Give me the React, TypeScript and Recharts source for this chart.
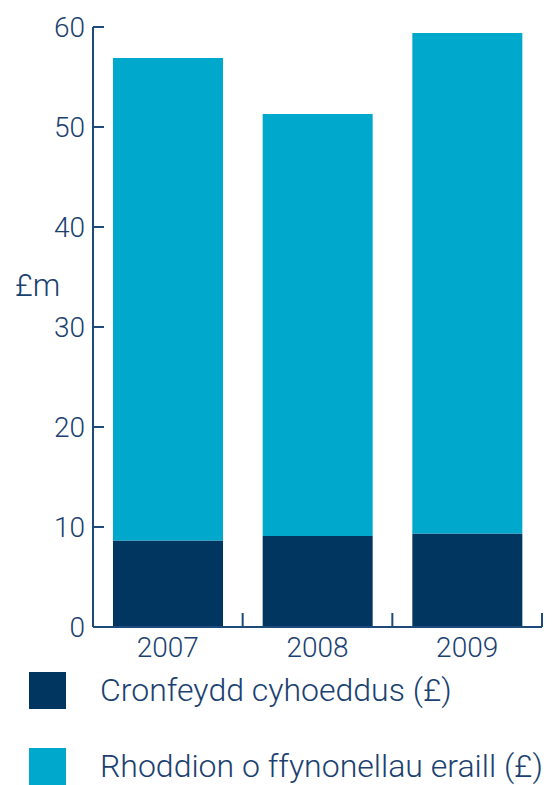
import { BarChart, Bar, XAxis, YAxis, Legend } from 'recharts';

const years = ['2007', '2008', '2009'];
const publicFunds = [8.65, 9.1, 9.35];
const otherDonations = [48.25, 42.2, 50.05];
const yTicks = [0, 10, 20, 30, 40, 50, 60];

const SERIES = [
  { key: 'public', name: 'Cronfeydd cyhoeddus (£)', color: '#00365f' },
  { key: 'other', name: 'Rhoddion o ffynonellau eraill (£)', color: '#00a8cc' },
];

const data = years.map((year, i) => ({
  year,
  public: publicFunds[i],
  other: otherDonations[i],
}));

const W = 552;
const H = 785;
const AXIS_W = 93;
const RIGHT = 10;
const BAND = (W - AXIS_W - RIGHT) / years.length;
const INK = '#1a4170';
const LINE = '#1d4a7a';
const FONT = 'Roboto, "Liberation Sans", Arial, sans-serif';

function YearTick({ x, y, payload }: any) {
  return (
    <g>
      <line x1={x + BAND / 2} x2={x + BAND / 2} y1={y - 14} y2={y} stroke={LINE} strokeWidth={2} />
      <text x={x} y={y + 30} textAnchor="middle" fill={INK} fontSize={28} fontFamily={FONT} fontWeight={300}>
        {payload.value}
      </text>
    </g>
  );
}

function LegendBox({ payload }: any) {
  return (
    <div>
      {(payload || []).map((item: any, i: number) => (
        <div key={item.value} style={{ display: 'flex', alignItems: 'center', height: 37, marginBottom: i === 0 ? 39 : 0 }}>
          <div style={{ width: 37, height: 37, background: item.color }} />
          <span style={{ marginLeft: 34, fontSize: 32, color: INK, fontFamily: FONT, fontWeight: 300, lineHeight: '37px', whiteSpace: 'nowrap' }}>
            {item.value}
          </span>
        </div>
      ))}
    </div>
  );
}

export default function App() {
  return (
    <div style={{ position: 'absolute', left: 0, top: 0, width: W, height: H, background: '#fff' }}>
      <BarChart width={W} height={H} data={data} margin={{ top: 27, right: RIGHT, left: 0, bottom: 128 }} barCategoryGap={20}>
        <XAxis
          dataKey="year"
          height={30}
          tickLine={false}
          tickSize={0}
          tickMargin={0}
          axisLine={{ stroke: LINE, strokeWidth: 2 }}
          tick={<YearTick />}
          interval={0}
        />
        <YAxis
          width={AXIS_W}
          domain={[0, 60]}
          ticks={yTicks}
          interval={0}
          tickSize={-11}
          tickMargin={19}
          axisLine={{ stroke: LINE, strokeWidth: 2 }}
          tickLine={{ stroke: LINE, strokeWidth: 2 }}
          tick={{ fill: INK, fontSize: 28, fontFamily: FONT, fontWeight: 300 }}
          label={{
            content: ({ viewBox }: any) => (
              <text x={viewBox.x + 15} y={viewBox.y + 258} dominantBaseline="central" fill={INK} fontSize={31} fontFamily={FONT} fontWeight={300}>
                £m
              </text>
            ),
          }}
        />
        {SERIES.map((s) => (
          <Bar key={s.key} dataKey={s.key} name={s.name} stackId="a" fill={s.color} isAnimationActive={false} />
        ))}
        <Legend
          layout="horizontal"
          align="center"
          verticalAlign="middle"
          content={<LegendBox />}
          wrapperStyle={{ top: 672, left: 29, width: 'auto' }}
        />
      </BarChart>
    </div>
  );
}
